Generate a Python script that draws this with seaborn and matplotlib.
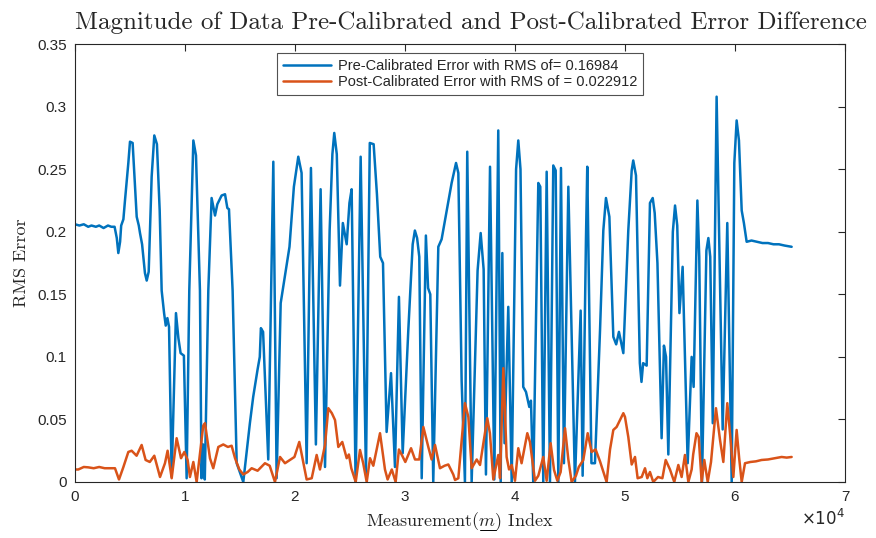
import numpy as np
import pandas as pd
import matplotlib
matplotlib.use("Agg")
import matplotlib.pyplot as plt
from matplotlib.lines import Line2D
import seaborn as sns

pre_points = [
    (0, 0.206), (400, 0.205), (800, 0.206), (1200, 0.204), (1500, 0.205), (1900, 0.204),
    (2200, 0.205), (2600, 0.203), (3000, 0.205), (3300, 0.204), (3600, 0.204), (3800, 0.195),
    (3940, 0.183), (4100, 0.192), (4200, 0.205), (4400, 0.210), (4545, 0.225), (4850, 0.255),
    (5000, 0.272), (5240, 0.271), (5610, 0.212), (5800, 0.205), (5910, 0.199), (6100, 0.190),
    (6360, 0.167), (6520, 0.161), (6700, 0.168), (6970, 0.244), (7210, 0.277), (7450, 0.270),
    (7700, 0.217), (7880, 0.153), (8100, 0.135), (8250, 0.125), (8400, 0.131), (8550, 0.124),
    (8790, 0.004), (9180, 0.135), (9400, 0.115), (9600, 0.103), (9900, 0.101), (10150, 0.003),
    (10390, 0.153), (10760, 0.273), (11000, 0.261), (11360, 0.153), (11500, 0.003), (11650, 0.030),
    (11800, 0.002), (12120, 0.153), (12420, 0.227), (12730, 0.213), (12940, 0.222), (13330, 0.229),
    (13640, 0.230), (13850, 0.219), (14000, 0.218), (14330, 0.153), (14700, 0.015), (15300, 0.000),
    (15900, 0.047), (16200, 0.068), (16600, 0.090), (16800, 0.100), (16900, 0.123), (17100, 0.120),
    (17570, 0.018), (18030, 0.256), (18330, 0.003), (18700, 0.143), (19000, 0.160), (19500, 0.188),
    (19900, 0.236), (20300, 0.260), (20600, 0.247), (21060, 0.015), (21450, 0.251), (21900, 0.030),
    (22330, 0.234), (22730, 0.012), (23150, 0.201), (23400, 0.262), (23570, 0.279), (23800, 0.262),
    (24090, 0.157), (24350, 0.207), (24700, 0.190), (24950, 0.223), (25150, 0.234), (25510, 0.000),
    (25970, 0.260), (26450, 0.007), (26800, 0.271), (27150, 0.270), (27450, 0.230), (27750, 0.180),
    (28000, 0.175), (28330, 0.040), (28730, 0.087), (29090, 0.012), (29450, 0.148), (29790, 0.023),
    (30300, 0.121), (30700, 0.190), (30900, 0.201), (31100, 0.195), (31300, 0.180), (31520, 0.003),
    (31900, 0.197), (32100, 0.155), (32300, 0.150), (32570, 0.000), (33030, 0.188), (33330, 0.194),
    (33790, 0.217), (34240, 0.239), (34640, 0.255), (34850, 0.247), (35150, 0.081), (35450, 0.000),
    (35660, 0.264), (36060, 0.000), (36600, 0.169), (36880, 0.199), (37150, 0.170), (37360, 0.006),
    (37730, 0.252), (38120, 0.002), (38480, 0.281), (38700, 0.000), (38850, 0.183), (39050, 0.031),
    (39390, 0.140), (39700, 0.000), (40100, 0.250), (40300, 0.273), (40500, 0.250), (40750, 0.076),
    (41000, 0.072), (41300, 0.060), (41450, 0.065), (41660, 0.000), (42120, 0.239), (42300, 0.236),
    (42570, 0.000), (42880, 0.248), (43180, 0.000), (43480, 0.253), (43700, 0.249), (43940, 0.000),
    (44180, 0.251), (44450, 0.015), (44850, 0.236), (45450, 0.000), (45970, 0.137), (46150, 0.005),
    (46450, 0.193), (46570, 0.252), (46950, 0.015), (47270, 0.015), (47730, 0.121), (48030, 0.201),
    (48270, 0.227), (48580, 0.212), (48940, 0.116), (49200, 0.110), (49450, 0.120), (49850, 0.103),
    (50300, 0.201), (50610, 0.249), (50750, 0.257), (51000, 0.245), (51350, 0.095), (51500, 0.080),
    (51650, 0.095), (51970, 0.093), (52270, 0.223), (52520, 0.227), (52700, 0.215), (52950, 0.175),
    (53330, 0.035), (53540, 0.109), (53730, 0.100), (53940, 0.022), (54350, 0.200), (54550, 0.221),
    (54750, 0.205), (54950, 0.135), (55240, 0.172), (55700, 0.015), (56060, 0.100), (56240, 0.076),
    (56580, 0.225), (56750, 0.180), (57000, 0.000), (57400, 0.185), (57580, 0.195), (57750, 0.180),
    (57980, 0.047), (58330, 0.308), (58880, 0.042), (59300, 0.207), (59700, 0.000), (59940, 0.255),
    (60150, 0.289), (60360, 0.273), (60610, 0.217), (60810, 0.207), (61060, 0.192), (61500, 0.193),
    (62000, 0.192), (62500, 0.191), (63000, 0.191), (63500, 0.190), (64000, 0.190), (64500, 0.189),
    (65150, 0.188),
]
post_points = [
    (0, 0.010), (300, 0.010), (800, 0.012), (1210, 0.0117), (1700, 0.011), (2200, 0.012),
    (2700, 0.011), (3200, 0.011), (3636, 0.011), (4000, 0.002), (4390, 0.0117), (4850, 0.024),
    (5150, 0.025), (5600, 0.021), (6060, 0.0296), (6420, 0.0176), (6800, 0.016), (7210, 0.021),
    (7730, 0.004), (8180, 0.015), (8420, 0.025), (8790, 0.003), (9240, 0.035), (9640, 0.019),
    (9940, 0.024), (10240, 0.0176), (10450, 0.004), (10760, 0.016), (11060, 0.000), (11660, 0.045),
    (11820, 0.047), (12270, 0.019), (12570, 0.011), (13030, 0.028), (13480, 0.030), (13900, 0.028),
    (14240, 0.029), (14550, 0.019), (14940, 0.010), (15300, 0.006), (15700, 0.008), (16060, 0.011),
    (16600, 0.009), (17270, 0.015), (17700, 0.013), (18180, 0.000), (18640, 0.020), (19090, 0.015),
    (19600, 0.018), (19950, 0.020), (20390, 0.032), (20700, 0.018), (21060, 0.002), (21520, 0.003),
    (21970, 0.0216), (22270, 0.010), (22730, 0.0296), (23030, 0.059), (23350, 0.055), (23640, 0.0495),
    (23940, 0.028), (24300, 0.032), (24700, 0.019), (24900, 0.022), (25120, 0.011), (25520, 0.000),
    (25910, 0.0256), (26200, 0.015), (26520, 0.000), (26820, 0.019), (27120, 0.013), (27730, 0.039),
    (28180, 0.010), (28420, 0.002), (28800, 0.010), (29150, 0.000), (29450, 0.026), (29750, 0.021),
    (30030, 0.016), (30550, 0.027), (30910, 0.018), (31300, 0.018), (31670, 0.044), (32120, 0.028),
    (32420, 0.018), (32730, 0.0296), (33180, 0.011), (33600, 0.013), (33940, 0.014), (34390, 0.006),
    (34550, 0.0016), (34850, 0.003), (35450, 0.063), (35760, 0.052), (36060, 0.011), (36520, 0.018),
    (36820, 0.0136), (37480, 0.051), (37720, 0.039), (38030, 0.002), (38480, 0.0216), (38640, 0.003),
    (38940, 0.091), (39240, 0.020), (39460, 0.010), (39700, 0.0136), (40000, 0.001), (40300, 0.027),
    (40600, 0.015), (41120, 0.039), (41360, 0.032), (41820, 0.001), (42120, 0.005), (42570, 0.020),
    (42880, 0.001), (43240, 0.031), (43550, 0.0096), (43850, 0.001), (44150, 0.008), (44550, 0.043),
    (44850, 0.018), (45150, 0.000), (45540, 0.005), (45800, 0.012), (46210, 0.0176), (46610, 0.039),
    (46970, 0.024), (47330, 0.026), (47730, 0.0165), (48330, 0.000), (48640, 0.026), (48940, 0.0416),
    (49240, 0.044), (49550, 0.0496), (49850, 0.055), (50000, 0.052), (50300, 0.036), (50610, 0.014),
    (50910, 0.020), (51150, 0.003), (51520, 0.004), (51820, 0.011), (52030, 0.003), (52270, 0.008),
    (52570, 0.000), (53000, 0.004), (53400, 0.003), (53700, 0.0176), (54090, 0.010), (54480, 0.000),
    (54850, 0.0136), (55150, 0.004), (55450, 0.0216), (55760, 0.000), (56060, 0.010), (56200, 0.022),
    (56500, 0.039), (56700, 0.036), (56970, 0.000), (57210, 0.0176), (57520, 0.000), (57820, 0.016),
    (58030, 0.036), (58270, 0.059), (58640, 0.0336), (58940, 0.016), (59300, 0.063), (59640, 0.030),
    (59850, 0.004), (60150, 0.0416), (60380, 0.019), (60610, 0.000), (60910, 0.015), (61400, 0.016),
    (61900, 0.0165), (62420, 0.0176), (63000, 0.018), (63600, 0.019), (64240, 0.020), (64700, 0.0195),
    (65150, 0.020),
]
pre_x = [p[0] for p in pre_points]
pre_y = [p[1] for p in pre_points]
post_x = [p[0] for p in post_points]
post_y = [p[1] for p in post_points]

labels = ["Pre-Calibrated Error with RMS of= 0.16984",
          "Post-Calibrated Error with RMS of = 0.022912"]
colors = ["#0072BD", "#D95319"]
x_ticks = [0, 10000, 20000, 30000, 40000, 50000, 60000, 70000]
x_tick_labels = ["0", "1", "2", "3", "4", "5", "6", "7"]
y_ticks = [0, 0.05, 0.1, 0.15, 0.2, 0.25, 0.3, 0.35]
y_tick_labels = ["0", "0.05", "0.1", "0.15", "0.2", "0.25", "0.3", "0.35"]

df = pd.concat([
    pd.DataFrame({"x": pre_x, "y": pre_y, "series": labels[0]}),
    pd.DataFrame({"x": post_x, "y": post_y, "series": labels[1]}),
], ignore_index=True)

sns.set_theme(style="white")
plt.rcParams["font.family"] = ["Liberation Sans", "DejaVu Sans"]
plt.rcParams["mathtext.fontset"] = "cm"

fig = plt.figure(figsize=(8.76, 5.38), dpi=100)
ax = fig.add_axes([0.0856, 0.1041, 0.8790, 0.8139])

sns.lineplot(data=df, x="x", y="y", hue="series", hue_order=labels, palette=colors,
             sort=False, estimator=None, linewidth=1.8, ax=ax)
for ln in ax.get_lines():
    ln.set_solid_joinstyle("round")

ax.set_xlim(0, 70000)
ax.set_ylim(0, 0.35)
ax.set_xticks(x_ticks)
ax.set_xticklabels(x_tick_labels)
ax.set_yticks(y_ticks)
ax.set_yticklabels(y_tick_labels)
ax.tick_params(direction="in", length=5, width=0.8, colors="#262626", labelsize=11,
               top=True, right=True, labelcolor="#262626", pad=6)
for s in ax.spines.values():
    s.set_color("#262626")
    s.set_linewidth(0.8)

ax.set_title("Magnitude of Data Pre-Calibrated and Post-Calibrated Error Difference",
             fontname="cmr10", fontsize=18, pad=11)
ax.title.set_x(0.514)
ax.set_xlabel(r"Measurement($m$) Index", fontname="cmr10", fontsize=13, labelpad=4)
ax.set_ylabel("RMS Error", fontname="cmr10", fontsize=13, labelpad=6)

ax.text(1.0, -0.06, r"$\times10^{4}$", transform=ax.transAxes, ha="right", va="top",
        fontsize=12, color="#262626", math_fontfamily="dejavusans")

leg = ax.legend(loc="upper center", bbox_to_anchor=(0.5, 0.979), borderaxespad=0,
                fontsize=10.5, frameon=True, fancybox=False, edgecolor="#262626",
                handlelength=3.3, borderpad=0.4, labelspacing=0.15, handletextpad=0.45)
leg.get_frame().set_linewidth(0.8)
for line in leg.get_lines():
    line.set_linewidth(1.8)

# underline under the italic m of the x label
fig.canvas.draw()
r = fig.canvas.get_renderer()
bb = ax.xaxis.label.get_window_extent(r)
t1 = fig.text(0, 0, "Measurement(", fontname="cmr10", fontsize=13)
w1 = t1.get_window_extent(r).width
t1.remove()
t2 = fig.text(0, 0, r"$m$", fontsize=13)
w2 = t2.get_window_extent(r).width
t2.remove()
W, H = fig.bbox.width, fig.bbox.height
yline = bb.y0 + 2.5
fig.add_artist(Line2D([(bb.x0 + w1 + 0.5) / W, (bb.x0 + w1 + w2 - 0.5) / W],
                      [yline / H, yline / H], color="black", linewidth=0.7))

fig.savefig("out.png", dpi=100)
